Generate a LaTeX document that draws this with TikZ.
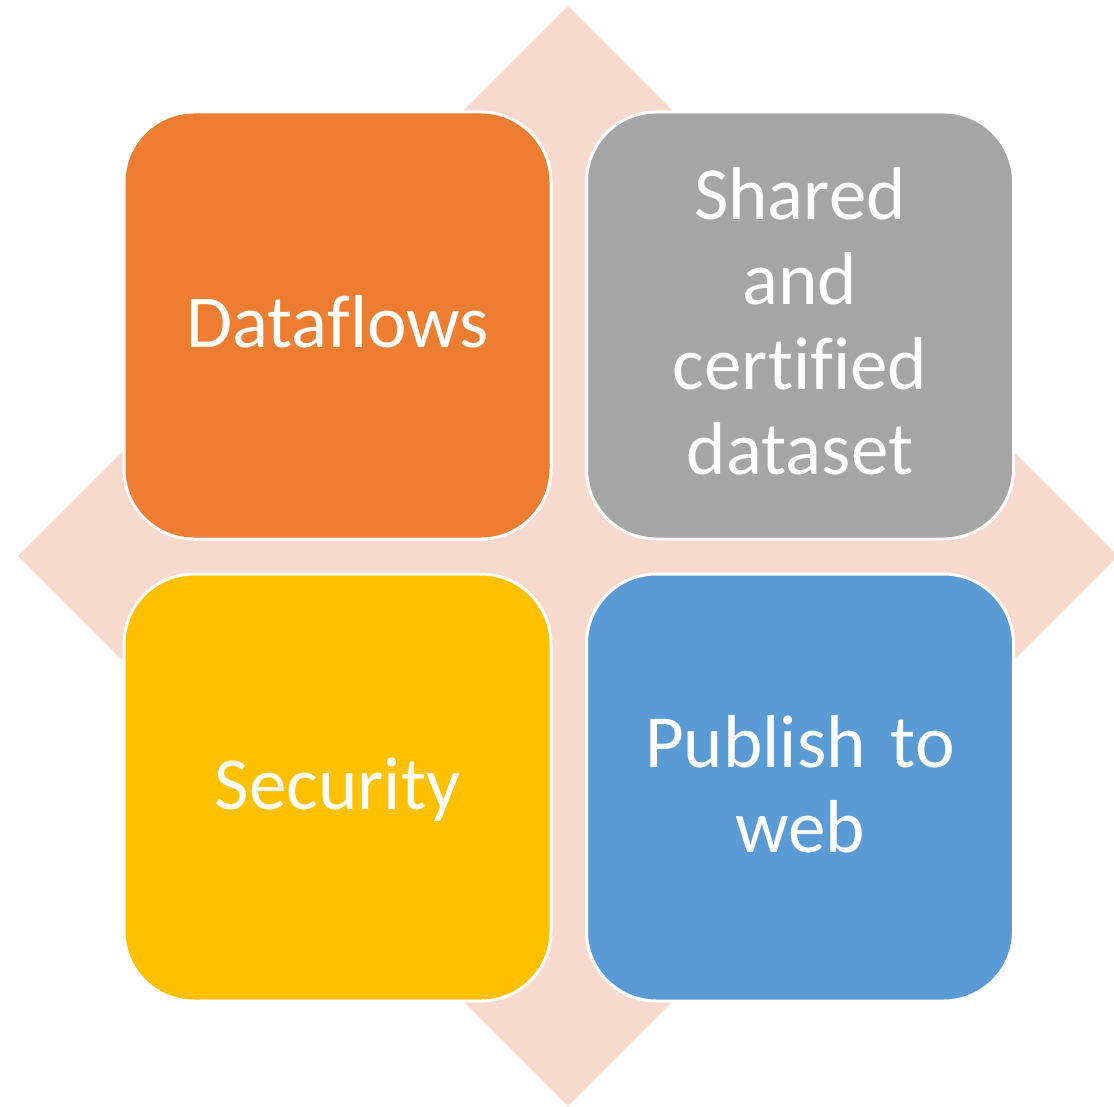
\documentclass[tikz,border=0pt]{standalone}
\usepackage{fontspec}
\setmainfont{Carlito}[Ligatures=NoCommon, WordSpace=0.75]
\definecolor{tileorange}{HTML}{ED7D31}
\definecolor{tilegray}{HTML}{A5A5A5}
\definecolor{tileyellow}{HTML}{FFC000}
\definecolor{tileblue}{HTML}{5B9BD5}
\definecolor{diamondpink}{HTML}{F8D9CE}
\begin{document}
\begin{tikzpicture}[
    x=1pt, y=-1pt,
    tile/.style={
        draw=white,
        line width=3pt,
        rounded corners=70pt,
        minimum width=427pt,
        minimum height=427pt,
        text width=380pt,
        align=center,
        text=white,
        inner sep=0pt,
        font=\fontsize{75}{85}\selectfont,
        execute at begin node={\rule{0pt}{60pt}},
        execute at end node={\rule[-16pt]{0pt}{0pt}}
    }
]
    \useasboundingbox (0,0) rectangle (1114,1107);
    \clip (0,0) rectangle (1114,1107);
    % background diamond
    \fill[diamondpink] (18,556) -- (568,6) -- (1118,556) -- (568,1106) -- cycle;

    \node[tile, fill=tileorange] (dataflows) at (337.5,325.5) {Dataflows};
    \node[tile, fill=tilegray]   (shared)    at (800,325.5)   {Shared\\and\\certified\\dataset};
    \node[tile, fill=tileyellow] (security)  at (337.5,787.5) {Security};
    \node[tile, fill=tileblue]   (publish)   at (800,787.5)   {Publish to\\web};
\end{tikzpicture}
\end{document}
